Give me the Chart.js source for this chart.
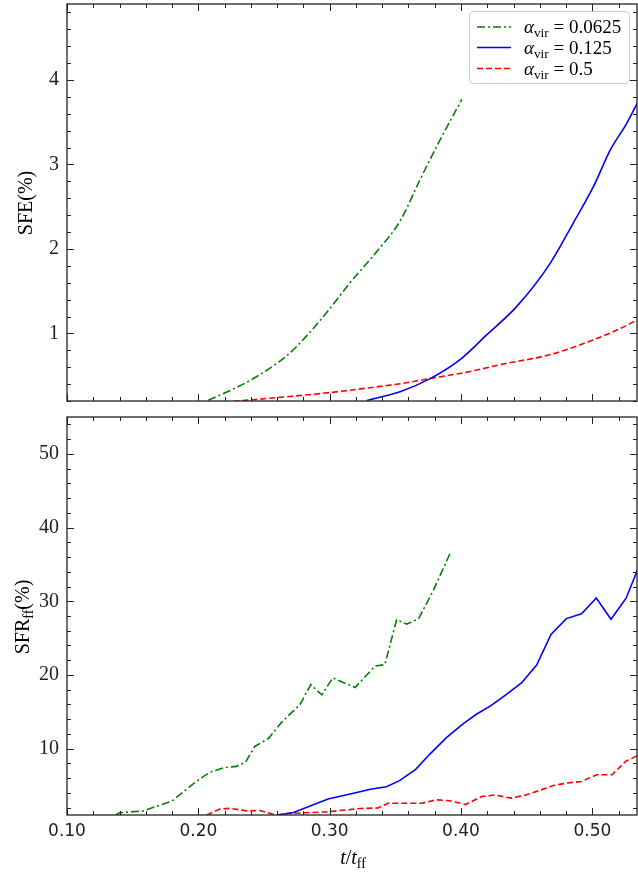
<!DOCTYPE html>
<html>
<head>
<meta charset="utf-8">
<script src="https://cdn.jsdelivr.net/npm/chart.js@4/dist/chart.umd.min.js"></script>
<style>
  body { margin: 0; background: #fff; }
  canvas { display: block; }
</style>
</head>
<body>
<canvas id="topChart" width="638" height="410"></canvas>
<canvas id="bottomChart" width="638" height="462"></canvas>
<script>
// shared x axis (t / t_ff)
const xMin = 0.1, xMax = 0.534;
const xTicks = [0.1, 0.2, 0.3, 0.4, 0.5];
const sfeTicks = [1, 2, 3, 4];
const sfrTicks = [10, 20, 30, 40, 50];
const legendLabels = ['0.0625', '0.125', '0.5'];

// SFE (%) - top panel
const greenSfeT = [0.2076, 0.225, 0.2445, 0.2698, 0.2952, 0.3155, 0.337, 0.3536, 0.3688, 0.384, 0.4006];
const greenSfe  = [0.21, 0.33, 0.49, 0.77, 1.2, 1.6, 1.99, 2.33, 2.82, 3.29, 3.77];
const blueSfeT  = [0.3283, 0.3536, 0.3765, 0.3993, 0.4197, 0.4425, 0.4679, 0.4856, 0.5009, 0.5136, 0.5263, 0.5343];
const blueSfe   = [0.207, 0.31, 0.465, 0.69, 0.985, 1.32, 1.83, 2.31, 2.74, 3.17, 3.49, 3.73];
const redSfeT   = [0.2267, 0.2698, 0.3003, 0.3384, 0.3536, 0.378, 0.407, 0.4298, 0.4679, 0.5009, 0.5187, 0.5343];
const redSfe    = [0.195, 0.254, 0.30, 0.373, 0.405, 0.47, 0.55, 0.63, 0.75, 0.925, 1.04, 1.16];

// SFR_ff (%) - bottom panel
const greenSfrT = [0.137, 0.140, 0.158, 0.180, 0.201, 0.209, 0.219, 0.229, 0.236, 0.243, 0.2535, 0.2635,
                   0.2775, 0.2856, 0.294, 0.3023, 0.3193, 0.3346, 0.342, 0.351, 0.3587, 0.3676, 0.379, 0.3917];
const greenSfr  = [1.0, 1.3, 1.55, 2.9, 5.9, 6.8, 7.4, 7.6, 8.2, 10.3, 11.4, 13.6,
                   16.0, 18.7, 17.3, 19.6, 18.3, 21.2, 21.4, 27.5, 26.9, 27.6, 31.5, 36.5];
const blueSfrT  = [0.261, 0.2724, 0.2988, 0.3206, 0.331, 0.3433, 0.3535, 0.3655, 0.3765, 0.3889, 0.4018, 0.412,
                   0.4225, 0.4349, 0.4462, 0.4576, 0.4685, 0.4802, 0.4918, 0.503, 0.5142, 0.5258, 0.5345];
const blueSfr   = [1.0, 1.35, 3.16, 4.05, 4.5, 4.83, 5.7, 7.2, 9.3, 11.5, 13.4, 14.7,
                   15.8, 17.4, 18.95, 21.35, 25.5, 27.65, 28.3, 30.45, 27.55, 30.45, 34.3];
const redSfrT   = [0.2064, 0.2165, 0.2241, 0.2369, 0.247, 0.2572, 0.2597, 0.2673, 0.2978, 0.3232, 0.3369, 0.3445,
                   0.3699, 0.3813, 0.3915, 0.4035, 0.4157, 0.4258, 0.438, 0.4487, 0.459, 0.4703, 0.4806, 0.4918,
                   0.5032, 0.515, 0.5255, 0.5345];
const redSfr    = [1.0, 1.8, 1.9, 1.56, 1.6, 1.1, 1.0, 1.2, 1.43, 1.88, 1.95, 2.6,
                   2.6, 3.06, 2.93, 2.42, 3.5, 3.72, 3.29, 3.67, 4.29, 5.0, 5.33, 5.55,
                   6.46, 6.46, 8.3, 9.05];

const GREEN = '#008000', BLUE = '#0000ff', RED = '#ff0000';
const DASH = { green: [8, 3, 2, 3], blue: [], red: [6, 3] };
const SERIF = '"Liberation Serif", "DejaVu Serif", serif';
const SANS = '"DejaVu Sans", sans-serif';

function pts(xs, ys) { return xs.map((x, i) => ({ x: x, y: ys[i] })); }

function line(label, data, color, dash, smooth) {
  const ds = { label: label, data: data, borderColor: color, borderDash: dash, borderWidth: 1.6,
               pointRadius: 0, fill: false, tension: 0 };
  if (smooth) ds.cubicInterpolationMode = 'monotone';
  return ds;
}

// draw a sequence of text pieces, some as subscripts / italics
function drawRich(ctx, item) {
  const size = item.size || 18;
  ctx.save();
  ctx.translate(item.x, item.y);
  if (item.rot) ctx.rotate(item.rot);
  ctx.fillStyle = '#000';
  ctx.textBaseline = 'alphabetic';
  let total = 0;
  const widths = item.parts.map(p => {
    const s = p.sub ? size * 0.7 : size;
    ctx.font = (p.it ? 'italic ' : '') + s + 'px ' + SERIF;
    const w = ctx.measureText(p.t).width;
    total += w;
    return w;
  });
  let cx = item.align === 'left' ? 0 : -total / 2;
  item.parts.forEach((p, i) => {
    const s = p.sub ? size * 0.7 : size;
    ctx.font = (p.it ? 'italic ' : '') + s + 'px ' + SERIF;
    ctx.fillText(p.t, cx, p.sub ? size * 0.22 : 0);
    cx += widths[i];
  });
  ctx.restore();
}

// frame with inward major/minor ticks on all four sides
const framePlugin = {
  id: 'frame',
  afterDraw(chart, args, opts) {
    const ctx = chart.ctx, a = chart.chartArea;
    const xs = chart.scales.x, ys = chart.scales.y;
    ctx.save();
    ctx.strokeStyle = '#222';
    ctx.lineWidth = 1;
    const mark = (scale, step, major, horizontal) => {
      const n0 = Math.ceil(scale.min / step - 1e-6), n1 = Math.floor(scale.max / step + 1e-6);
      for (let n = n0; n <= n1; n++) {
        const v = n * step;
        const r = v / major;
        const len = Math.abs(r - Math.round(r)) < 1e-6 ? 7 : 4;
        const p = Math.round(scale.getPixelForValue(v)) + 0.5;
        ctx.beginPath();
        if (horizontal) {
          ctx.moveTo(p, a.bottom); ctx.lineTo(p, a.bottom - len);
          ctx.moveTo(p, a.top); ctx.lineTo(p, a.top + len);
        } else {
          ctx.moveTo(a.left, p); ctx.lineTo(a.left + len, p);
          ctx.moveTo(a.right, p); ctx.lineTo(a.right - len, p);
        }
        ctx.stroke();
      }
    };
    mark(xs, 0.02, 0.1, true);
    mark(ys, opts.yMinor, opts.yMajor, false);
    ctx.lineWidth = 1.3;
    ctx.strokeRect(a.left, a.top, a.right - a.left, a.bottom - a.top);
    ctx.restore();
    (opts.texts || []).forEach(t => drawRich(ctx, t));
  }
};

const legendPlugin = {
  id: 'mathLegend',
  afterDatasetsDraw(chart, args, opts) {
    if (!opts.show) return;
    const ctx = chart.ctx;
    ctx.save();
    const bx = 469.5, by = 11.5, bw = 160, bh = 72, r = 4;
    ctx.beginPath();
    ctx.moveTo(bx + r, by);
    ctx.arcTo(bx + bw, by, bx + bw, by + bh, r);
    ctx.arcTo(bx + bw, by + bh, bx, by + bh, r);
    ctx.arcTo(bx, by + bh, bx, by, r);
    ctx.arcTo(bx, by, bx + bw, by, r);
    ctx.closePath();
    ctx.fillStyle = 'rgba(255,255,255,0.85)';
    ctx.fill();
    ctx.strokeStyle = '#cccccc';
    ctx.lineWidth = 1;
    ctx.stroke();
    const rows = [27, 47.5, 68.5];
    chart.data.datasets.forEach((ds, i) => {
      ctx.beginPath();
      ctx.setLineDash(ds.borderDash);
      ctx.strokeStyle = ds.borderColor;
      ctx.lineWidth = 1.6;
      ctx.moveTo(477, rows[i]);
      ctx.lineTo(511, rows[i]);
      ctx.stroke();
      ctx.setLineDash([]);
      drawRich(ctx, { x: 524, y: rows[i] + 6, size: 19, align: 'left',
        parts: [{ t: 'α', it: true }, { t: 'vir', sub: true }, { t: ' = ' + legendLabels[i] }] });
    });
    ctx.restore();
  }
};

function axes(yMin, yMax, yTicks, showX, xHeight) {
  return {
    x: {
      type: 'linear', min: xMin, max: xMax,
      grid: { display: false, drawTicks: false }, border: { display: false },
      afterBuildTicks: s => { s.ticks = xTicks.map(v => ({ value: v })); },
      afterFit: s => { s.height = xHeight; s.paddingLeft = 0; s.paddingRight = 0; },
      ticks: { display: showX, padding: 6, color: '#222', font: { family: SANS, size: 17 },
               maxRotation: 0, autoSkip: false, callback: v => v.toFixed(2) }
    },
    y: {
      type: 'linear', min: yMin, max: yMax,
      grid: { display: false, drawTicks: false }, border: { display: false },
      afterBuildTicks: s => { s.ticks = yTicks.map(v => ({ value: v })); },
      afterFit: s => { s.width = 67; s.paddingTop = 0; s.paddingBottom = 0; },
      ticks: { padding: 8, color: '#222', font: { family: SERIF, size: 20 }, callback: v => v }
    }
  };
}

new Chart(document.getElementById('topChart'), {
  type: 'line',
  data: {
    datasets: [
      line(legendLabels[0], pts(greenSfeT, greenSfe), GREEN, DASH.green, true),
      line(legendLabels[1], pts(blueSfeT, blueSfe), BLUE, DASH.blue, true),
      line(legendLabels[2], pts(redSfeT, redSfe), RED, DASH.red, true)
    ]
  },
  options: {
    responsive: false, animation: false,
    layout: { padding: { top: 4, right: 1, left: 0, bottom: 0 } },
    plugins: {
      legend: { display: false }, tooltip: { enabled: false },
      mathLegend: { show: true },
      frame: { yMinor: 0.2, yMajor: 1,
        texts: [{ x: 32, y: 203, rot: -Math.PI / 2, size: 20, parts: [{ t: 'SFE(%)' }] }] }
    },
    scales: axes(0.2, 4.9, sfeTicks, false, 9)
  },
  plugins: [framePlugin, legendPlugin]
});

new Chart(document.getElementById('bottomChart'), {
  type: 'line',
  data: {
    datasets: [
      line(legendLabels[0], pts(greenSfrT, greenSfr), GREEN, DASH.green, false),
      line(legendLabels[1], pts(blueSfrT, blueSfr), BLUE, DASH.blue, false),
      line(legendLabels[2], pts(redSfrT, redSfr), RED, DASH.red, false)
    ]
  },
  options: {
    responsive: false, animation: false,
    layout: { padding: { top: 7, right: 1, left: 0, bottom: 0 } },
    plugins: {
      legend: { display: false }, tooltip: { enabled: false },
      mathLegend: { show: false },
      frame: { yMinor: 2, yMajor: 10,
        texts: [
          { x: 29, y: 207, rot: -Math.PI / 2, size: 20, parts: [{ t: 'SFR' }, { t: 'ff', sub: true }, { t: '(%)' }] },
          { x: 353, y: 454, size: 20, parts: [{ t: 't', it: true }, { t: '/' }, { t: 't', it: true }, { t: 'ff', sub: true }] }
        ] }
    },
    scales: axes(1, 55, sfrTicks, true, 57)
  },
  plugins: [framePlugin, legendPlugin]
});
</script>
</body>
</html>
